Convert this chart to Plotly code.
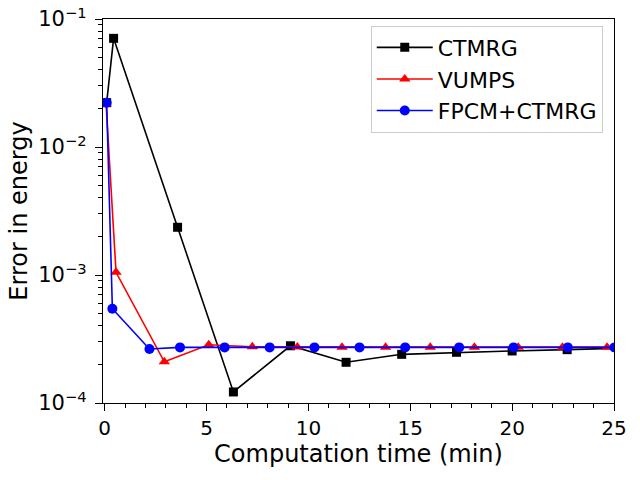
import plotly.graph_objects as go

FONT = "DejaVu Sans"

# computation time (min) and energy error
ctmrg_t = [0.1, 0.44, 3.58, 6.32, 9.12, 11.85, 14.58, 17.27, 20.0, 22.7, 25.4]
ctmrg_err = [2.22e-2, 7.06e-2, 2.36e-3, 1.22e-4, 2.80e-4, 2.08e-4, 2.40e-4, 2.49e-4, 2.55e-4, 2.61e-4, 2.68e-4]

vumps_t = [0.07, 0.56, 2.93, 5.11, 7.25, 9.46, 11.65, 13.79, 15.98, 18.15, 20.3, 22.47, 24.66]
vumps_err = [2.17e-2, 1.05e-3, 2.10e-4, 2.85e-4, 2.75e-4, 2.74e-4, 2.73e-4, 2.73e-4, 2.73e-4, 2.73e-4, 2.73e-4, 2.73e-4, 2.73e-4]

fpcm_t = [0.1, 0.38, 2.2, 3.7, 5.89, 8.1, 10.3, 12.51, 14.75, 17.4, 20.07, 22.73, 25.02]
fpcm_err = [2.22e-2, 5.45e-4, 2.64e-4, 2.72e-4, 2.72e-4, 2.72e-4, 2.72e-4, 2.72e-4, 2.72e-4, 2.72e-4, 2.72e-4, 2.72e-4, 2.72e-4]

x_ticks = [0, 5, 10, 15, 20, 25]
y_ticks = [1e-4, 1e-3, 1e-2, 1e-1]
y_labels = ["10<sup>−4</sup>", "10<sup>−3</sup>", "10<sup>−2</sup>", "10<sup>−1</sup>"]

fig = go.Figure()
fig.add_trace(go.Scatter(x=ctmrg_t, y=ctmrg_err, mode="lines+markers", name="CTMRG",
                         line=dict(color="black", width=1.6),
                         marker=dict(symbol="square", size=9, color="black")))
fig.add_trace(go.Scatter(x=vumps_t, y=vumps_err, mode="lines+markers", name="VUMPS",
                         line=dict(color="red", width=1.6),
                         marker=dict(symbol="triangle-up", size=10, color="red")))
fig.add_trace(go.Scatter(x=fpcm_t, y=fpcm_err, mode="lines+markers", name="FPCM+CTMRG",
                         line=dict(color="blue", width=1.6),
                         marker=dict(symbol="circle", size=10, color="blue")))

axis_common = dict(showline=True, linecolor="black", linewidth=1.3, mirror=True,
                   ticks="outside", ticklen=7, tickwidth=1.3, tickcolor="black",
                   showgrid=False, zeroline=False, automargin=False,
                   title_font=dict(family=FONT, size=24, color="black"))

fig.update_xaxes(range=[-0.08, 25], tickvals=x_ticks, title_text="Computation time (min)",
                 title_standoff=4, tickfont=dict(family=FONT, size=20, color="black"),
                 minor=dict(dtick=1, ticks="outside", ticklen=4, tickwidth=1, tickcolor="black"),
                 **axis_common)
fig.update_yaxes(type="log", range=[-4, -1], tickvals=y_ticks, ticktext=y_labels,
                 title_text="Error in energy", title_standoff=3, ticklabelstandoff=4,
                 tickfont=dict(family=FONT, size=21, color="black"),
                 minor=dict(dtick="D1", ticks="outside", ticklen=4, tickwidth=1, tickcolor="black"),
                 **axis_common)

fig.update_layout(
    width=640, height=480,
    margin=dict(l=103, r=26, t=19, b=77),
    plot_bgcolor="white", paper_bgcolor="white",
    font=dict(family=FONT, size=20, color="black"),
    legend=dict(x=0.978, y=0.983, xanchor="right", yanchor="top", itemwidth=56,
                bgcolor="rgba(255,255,255,0.8)", bordercolor="#cccccc", borderwidth=1,
                font=dict(family=FONT, size=22, color="black")),
)

fig.write_html("out.html", config={"displayModeBar": False},
               post_script="document.body.style.margin='0px';")
